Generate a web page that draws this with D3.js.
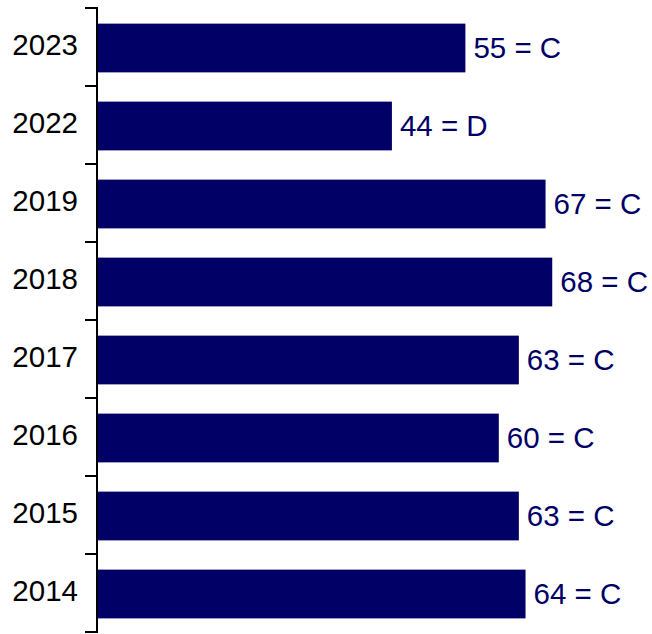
<!DOCTYPE html>
<html>
<head>
<meta charset="utf-8">
<script src="https://cdn.jsdelivr.net/npm/d3@7"></script>
<style>
  body { margin: 0; background: #fff; }
  svg text { font-family: "Liberation Sans", Arial, sans-serif; }
</style>
</head>
<body>
<div id="chart"></div>
<script>
const years = ["2023", "2022", "2019", "2018", "2017", "2016", "2015", "2014"];
const scores = [55, 44, 67, 68, 63, 60, 63, 64];
const grades = ["C", "D", "C", "C", "C", "C", "C", "C"];

const width = 652, height = 634;
const barColor = "#000066";
const fontSize = 29.5;

const svg = d3.select("#chart")
  .append("svg")
  .attr("width", width)
  .attr("height", height);

const y = d3.scaleBand()
  .domain(years)
  .range([8, 632])
  .paddingInner(0.375)
  .paddingOuter(0.1875);

const x = d3.scaleLinear()
  .domain([0, 80])
  .range([98, 98 + 80 * 6.68]);

// bars sit a hair below the band centre in the original
const barShift = 1;

svg.selectAll("rect.bar")
  .data(years)
  .enter()
  .append("rect")
  .attr("class", "bar")
  .attr("x", x(0))
  .attr("y", d => y(d) + barShift)
  .attr("height", y.bandwidth())
  .attr("width", (d, i) => x(scores[i]) - x(0))
  .attr("fill", barColor);

// value labels
svg.selectAll("text.val")
  .data(years)
  .enter()
  .append("text")
  .attr("class", "val")
  .attr("x", (d, i) => x(scores[i]) + 8)
  .attr("y", d => y(d) + barShift + y.bandwidth() / 2)
  .attr("dy", "0.33em")
  .attr("font-size", fontSize)
  .attr("fill", barColor)
  .text((d, i) => `${scores[i]} = ${grades[i]}`);

// axis: labels at band centres, ticks at band boundaries
const axis = svg.append("g")
  .attr("transform", `translate(${x(0) - 1},0)`)
  .call(d3.axisLeft(y).tickSize(0).tickPadding(19))
  .call(g => g.select(".domain").remove());

axis.selectAll("text")
  .attr("font-size", fontSize)
  .attr("dy", "0.27em")
  .attr("fill", "#000");

const bounds = years.map(d => y(d) - y.step() * y.paddingInner() / 2);
bounds.push(y.range()[1]);

axis.selectAll("line.bound")
  .data(bounds)
  .enter()
  .append("line")
  .attr("class", "bound")
  .attr("x1", -12)
  .attr("x2", 0)
  .attr("y1", d => d)
  .attr("y2", d => d)
  .attr("stroke", "#000")
  .attr("stroke-width", 2);

axis.append("line")
  .attr("x1", 0)
  .attr("x2", 0)
  .attr("y1", y.range()[0] - 1)
  .attr("y2", y.range()[1] + 1)
  .attr("stroke", "#000")
  .attr("stroke-width", 2);
</script>
</body>
</html>
